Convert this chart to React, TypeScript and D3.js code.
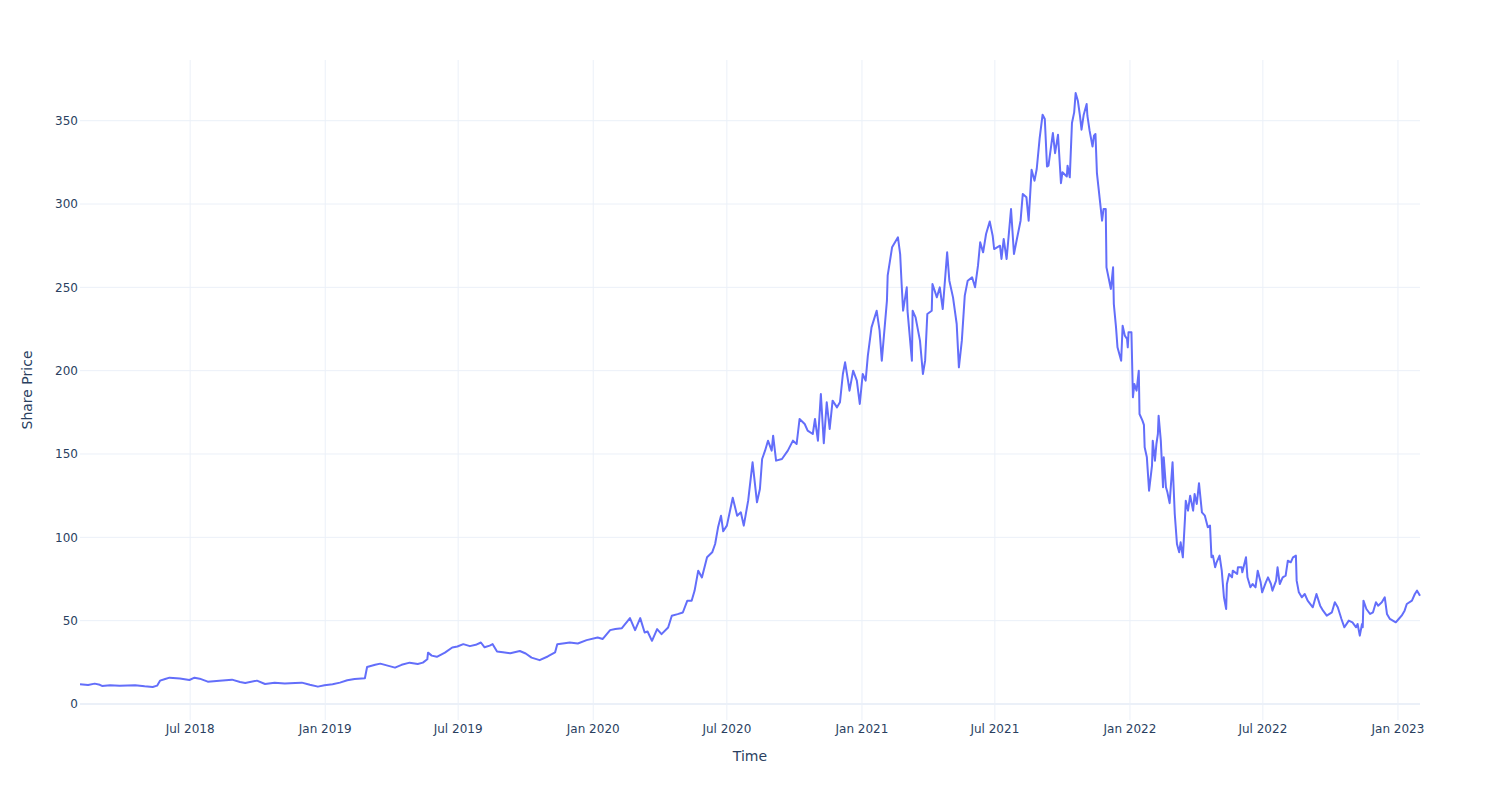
import React from "react";
import * as d3 from "d3";

const dates: string[] = [
  "2018-02-01","2018-02-12","2018-02-21","2018-02-28","2018-03-03","2018-03-14","2018-03-27","2018-04-17","2018-04-30","2018-05-11","2018-05-17","2018-05-21","2018-05-28","2018-06-03","2018-06-17","2018-06-30","2018-07-07","2018-07-14","2018-07-25","2018-08-10","2018-08-27","2018-09-07","2018-09-14","2018-09-30","2018-10-11","2018-10-24","2018-11-07","2018-11-21","2018-11-30","2018-12-11","2018-12-22","2018-12-31",
  "2019-01-11","2019-01-21","2019-01-31","2019-02-10","2019-02-24","2019-02-27","2019-03-10","2019-03-17","2019-03-27","2019-04-06","2019-04-15","2019-04-26","2019-05-07","2019-05-14","2019-05-20","2019-05-21","2019-05-26","2019-06-02","2019-06-13","2019-06-23","2019-06-30","2019-07-08","2019-07-17","2019-07-25","2019-08-01","2019-08-06","2019-08-13","2019-08-17","2019-08-23","2019-08-31","2019-09-10","2019-09-23","2019-10-01","2019-10-09","2019-10-20","2019-10-31","2019-11-10","2019-11-13","2019-11-23","2019-11-30","2019-12-11","2019-12-23",
  "2020-01-07","2020-01-14","2020-01-24","2020-01-31","2020-02-09","2020-02-20","2020-02-27","2020-03-05","2020-03-11","2020-03-15","2020-03-21","2020-03-28","2020-04-03","2020-04-12","2020-04-17","2020-04-25","2020-05-02","2020-05-08","2020-05-14","2020-05-18","2020-05-23","2020-05-28","2020-06-04","2020-06-11","2020-06-15","2020-06-19","2020-06-23","2020-06-26","2020-07-01","2020-07-09","2020-07-15","2020-07-20","2020-07-24","2020-07-30","2020-08-05","2020-08-11","2020-08-15",
  "2020-08-18","2020-08-22","2020-08-26","2020-08-31","2020-09-02","2020-09-06","2020-09-14","2020-09-22","2020-09-29","2020-10-04","2020-10-08","2020-10-15","2020-10-19","2020-10-26","2020-10-29","2020-11-02","2020-11-06","2020-11-10","2020-11-14","2020-11-18","2020-11-22","2020-11-28","2020-12-02","2020-12-06","2020-12-09","2020-12-13","2020-12-15","2020-12-20","2020-12-25","2020-12-29",
  "2021-01-02","2021-01-06","2021-01-09","2021-01-14","2021-01-21","2021-01-25","2021-01-28","2021-02-04","2021-02-05","2021-02-11","2021-02-15","2021-02-19","2021-02-22","2021-02-24","2021-02-26","2021-03-03","2021-03-04","2021-03-10","2021-03-11","2021-03-15","2021-03-21","2021-03-25","2021-03-28","2021-03-31","2021-04-06","2021-04-07","2021-04-13","2021-04-17","2021-04-21","2021-04-27","2021-04-30","2021-05-05","2021-05-10","2021-05-13","2021-05-17","2021-05-21","2021-05-25","2021-05-31","2021-06-04","2021-06-08","2021-06-11","2021-06-15","2021-06-19","2021-06-24",
  "2021-06-28","2021-06-30","2021-07-08","2021-07-10","2021-07-13","2021-07-17","2021-07-23","2021-07-27","2021-07-31","2021-08-05","2021-08-08","2021-08-13","2021-08-16","2021-08-20","2021-08-24","2021-08-27","2021-08-31","2021-09-04","2021-09-07","2021-09-10","2021-09-12","2021-09-18","2021-09-21","2021-09-25","2021-09-29","2021-10-01","2021-10-07","2021-10-08","2021-10-11","2021-10-14","2021-10-17","2021-10-19","2021-10-22","2021-10-25","2021-10-27","2021-10-30","2021-11-03","2021-11-04","2021-11-07","2021-11-11","2021-11-13","2021-11-15","2021-11-17","2021-11-19","2021-11-24","2021-11-26","2021-11-29","2021-11-30","2021-12-06","2021-12-09","2021-12-10",
  "2021-12-13","2021-12-15","2021-12-20","2021-12-22","2021-12-25","2021-12-28","2021-12-29","2021-12-30","2022-01-03","2022-01-05","2022-01-07","2022-01-10","2022-01-13","2022-01-14","2022-01-18","2022-01-20","2022-01-21","2022-01-24","2022-01-27","2022-01-31","2022-02-01","2022-02-04","2022-02-06","2022-02-08","2022-02-09","2022-02-12","2022-02-15","2022-02-16","2022-02-19","2022-02-21","2022-02-24","2022-02-28","2022-03-03","2022-03-06","2022-03-09","2022-03-11","2022-03-14","2022-03-17","2022-03-18","2022-03-21","2022-03-24","2022-03-28","2022-03-30","2022-04-02","2022-04-05",
  "2022-04-09","2022-04-13","2022-04-17","2022-04-20","2022-04-22","2022-04-24","2022-04-27","2022-04-29","2022-05-03","2022-05-06","2022-05-09","2022-05-12","2022-05-13","2022-05-16","2022-05-20","2022-05-21","2022-05-27","2022-05-28","2022-06-02","2022-06-03","2022-06-08","2022-06-10","2022-06-14","2022-06-17","2022-06-21","2022-06-24","2022-06-28","2022-06-30","2022-07-05","2022-07-08","2022-07-12","2022-07-14","2022-07-19","2022-07-21","2022-07-24","2022-07-28","2022-08-01","2022-08-04","2022-08-08","2022-08-11","2022-08-15","2022-08-16","2022-08-19","2022-08-23","2022-08-27","2022-08-31",
  "2022-09-07","2022-09-12","2022-09-17","2022-09-21","2022-09-26","2022-10-03","2022-10-07","2022-10-11","2022-10-16","2022-10-20","2022-10-26","2022-10-31","2022-11-05","2022-11-07","2022-11-10","2022-11-13","2022-11-14","2022-11-15","2022-11-19","2022-11-24","2022-11-28","2022-12-02","2022-12-05","2022-12-10","2022-12-14","2022-12-17","2022-12-21","2022-12-25","2022-12-29","2023-01-02","2023-01-06","2023-01-10","2023-01-13","2023-01-20","2023-01-24","2023-01-27","2023-01-31"
];

const prices: number[] = [
  11.8,11.4,12.2,11.5,10.8,11.2,11.0,11.3,10.6,10.2,11.0,14.0,15.0,15.8,15.3,14.4,15.8,15.2,13.4,14.0,14.6,13.2,12.6,14.0,12.0,12.8,12.3,12.6,12.8,11.5,10.4,11.2,
  11.8,12.8,14.2,15.0,15.4,22.2,23.5,24.2,23.0,21.8,23.5,24.8,24.0,24.8,26.8,30.8,29.0,28.3,30.8,33.9,34.5,35.9,34.7,35.5,36.9,34.0,35.0,35.9,31.5,31.0,30.4,31.8,30.3,27.8,26.3,28.5,30.9,35.9,36.5,36.9,36.3,38.3,
  39.9,39.0,44.3,45.0,45.5,51.5,44.3,51.5,42.9,43.5,37.9,44.9,41.9,45.9,52.9,53.9,54.9,61.9,61.9,67.9,80.0,75.9,88.0,91.0,96.0,106.0,113.0,103.6,107.0,123.7,113.0,115.0,107.0,122.0,145.0,121.0,129.0,
  147,152,158,152,161,146,147,152,158,156,171,168,164,162,171,158,186,156.5,181,165,182,178,181,198,205,194,188,200,194,180,
  198,194,209,226,236,224,206,242,257,274,277,280,270,252,236,250,236,206,236,232,218,198,206,234,236,252,244,250,237,271,254,244,228,202,218,245,254,256,250,263,277,271,282,289.5,
  281,273,275,267,279,267,297,270,279,290,306,304,290,320.5,314,321,339.5,353.6,351,322.5,323,342.6,330.5,341.6,312.5,319,316.5,323,316,348.6,355,366.6,362,352.6,344.6,353.6,360,353,344,334.5,341,342,318.5,310.5,290,297,297,262,249,262,240,
  226,214,206,227,221,219,214,223,223,184,192,188,200,174,170,167.5,154,148,128,143,158,146,156,162,173,158,130,148,130,127,120.5,145,114,96,91,97,88,112,122,116,125,116,126,120,132.5,
  115,113,106,107,88,89,82,85,89,80,64,57,72,78,76,80,78,82,82,79,88,76,70,72,70,80,73,67,73,76,72,68,74,82,72,76,77,86,85,88,89,74,67,64,66,62,
  58,66,59,56,53,55,61,58,51,46,50,49,46,48,41,48,46,62,57,54,55,61,59,61,64,54,51,50,49,51,53,56,60,62,66,68,65
];

const yTickValues: number[] = [0, 50, 100, 150, 200, 250, 300, 350];
const xTickDates: string[] = ["2018-07-01", "2019-01-01", "2019-07-01", "2020-01-01", "2020-07-01", "2021-01-01", "2021-07-01", "2022-01-01", "2022-07-01", "2023-01-01"];

const W = 1500;
const H = 800;
const M = { left: 80, right: 80, top: 60, bottom: 80 };
const FONT = "'DejaVu Sans', Verdana, sans-serif";
const TEXT = "#2a3f5f";
const GRID = "#ebf0f8";

export default function App() {
  const parse = d3.timeParse("%Y-%m-%d");
  const data = dates.map((d, i) => ({ date: parse(d) as Date, value: prices[i] }));
  const [x0, x1] = d3.extent(data, (d) => d.date) as [Date, Date];
  const [vmin, vmax] = d3.extent(data, (d) => d.value) as [number, number];
  const pad = (vmax - vmin) * 0.0556;

  const x = d3.scaleTime().domain([x0, x1]).range([M.left, W - M.right]);
  const y = d3.scaleLinear().domain([vmin - pad, vmax + pad]).range([H - M.bottom, M.top]);

  const line = d3
    .line<{ date: Date; value: number }>()
    .x((d) => x(d.date))
    .y((d) => y(d.value));

  const fmt = d3.timeFormat("%b %Y");
  const xTicks = xTickDates.map((s) => parse(s) as Date);

  return (
    <svg
      width={W}
      height={H}
      style={{ position: "absolute", left: 0, top: 0, background: "#fff" }}
      fontFamily={FONT}
    >
      <rect x={0} y={0} width={W} height={H} fill="#fff" />
      {xTicks.map((t, i) => (
        <line key={"vx" + i} x1={x(t)} x2={x(t)} y1={M.top} y2={H - M.bottom} stroke={GRID} strokeWidth={1} />
      ))}
      {yTickValues.map((v) => (
        <line
          key={"gy" + v}
          x1={M.left}
          x2={W - M.right}
          y1={y(v)}
          y2={y(v)}
          stroke={GRID}
          strokeWidth={v === 0 ? 2 : 1}
        />
      ))}
      <path d={line(data) || ""} fill="none" stroke="#636efa" strokeWidth={2} strokeLinejoin="round" />
      {yTickValues.map((v) => (
        <text key={"ty" + v} x={M.left - 2} y={y(v)} dy="0.35em" textAnchor="end" fontSize={12} fill={TEXT}>
          {v}
        </text>
      ))}
      {xTicks.map((t, i) => (
        <text key={"tx" + i} x={x(t)} y={H - M.bottom + 13} textAnchor="middle" fontSize={12} fill={TEXT}>
          {fmt(t)}
        </text>
      ))}
      <text x={(M.left + W - M.right) / 2} y={761} textAnchor="middle" fontSize={14} fill={TEXT}>
        Time
      </text>
      <text
        transform={`translate(32, ${(M.top + H - M.bottom) / 2}) rotate(-90)`}
        textAnchor="middle"
        fontSize={14}
        fill={TEXT}
      >
        Share Price
      </text>
    </svg>
  );
}
